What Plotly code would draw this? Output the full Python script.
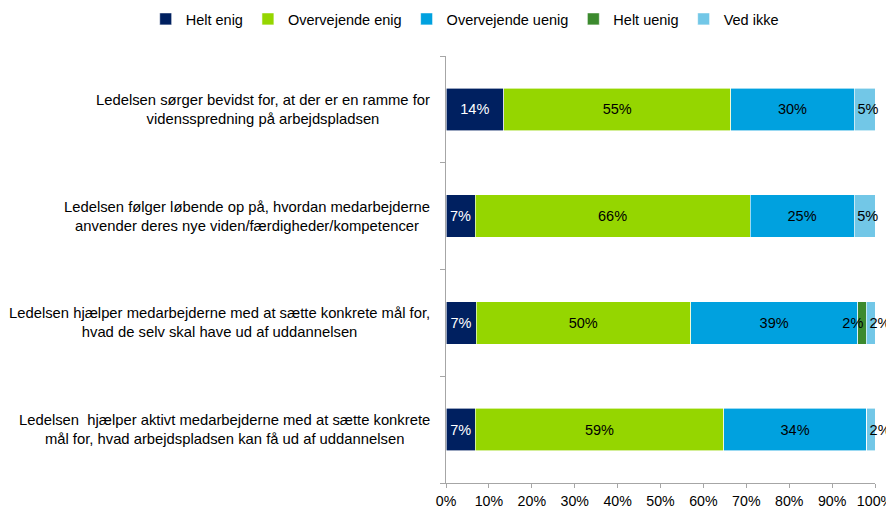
import plotly.graph_objects as go

categories = [
    "Ledelsen sørger bevidst for, at der er en ramme for<br>vidensspredning på arbejdspladsen",
    "Ledelsen følger løbende op på, hvordan medarbejderne<br>anvender deres nye viden/færdigheder/kompetencer",
    "Ledelsen hjælper medarbejderne med at sætte konkrete mål for,<br>hvad de selv skal have ud af uddannelsen",
    "Ledelsen  hjælper aktivt medarbejderne med at sætte konkrete<br>mål for, hvad arbejdspladsen kan få ud af uddannelsen",
]
series_names = ["Helt enig", "Overvejende enig", "Overvejende uenig", "Helt uenig", "Ved ikke"]
helt_enig = [14, 7, 7, 7]
overvejende_enig = [55, 66, 50, 59]
overvejende_uenig = [30, 25, 39, 34]
helt_uenig = [0, 0, 2, 0]
ved_ikke = [5, 5, 2, 2]
tick_vals = [0, 10, 20, 30, 40, 50, 60, 70, 80, 90, 100]
tick_labels = [f"{v}%" for v in tick_vals]

series_values = [helt_enig, overvejende_enig, overvejende_uenig, helt_uenig, ved_ikke]
colors = ["#002060", "#95D600", "#00A1DF", "#3C8A2E", "#72C7E7"]
text_colors = ["white", "black", "black", "black", "black"]
anchors = ["middle", "middle", "middle", "end", "start"]

FONT = "Liberation Sans, Arial, sans-serif"
FS = 14.5
ids = list(range(len(categories)))

fig = go.Figure()
for name, vals, col, tc, anc in zip(series_names, series_values, colors, text_colors, anchors):
    fig.add_trace(go.Bar(
        y=ids, x=vals, name=name, orientation="h",
        marker=dict(color=col, line=dict(color="white", width=0.6)),
        text=[f"{v}%" if v > 0 else "" for v in vals],
        textposition="inside", insidetextanchor=anc, textangle=0,
        textfont=dict(color=tc, size=FS, family=FONT),
        constraintext="none", cliponaxis=False,
    ))

for i, c in enumerate(categories):
    fig.add_annotation(x=0, xref="paper", y=i, yref="y", text=c, showarrow=False,
                       xanchor="right", align="center", xshift=-14,
                       font=dict(size=14.8, color="black", family=FONT))

# page has an 8px body margin, so the figure is 8px smaller than the window
fig.update_layout(
    width=886, height=498,
    margin=dict(l=438, r=19, t=48, b=23, autoexpand=False),
    barmode="stack", barnorm="percent", bargap=0.6,
    plot_bgcolor="white", paper_bgcolor="white",
    font=dict(family=FONT, size=FS, color="black"),
    uniformtext=dict(minsize=FS, mode="show"),
    legend=dict(orientation="h", x=-0.70, xanchor="left", y=1.0867, yanchor="middle",
                font=dict(size=FS, family=FONT), itemwidth=30, traceorder="normal",
                bgcolor="rgba(0,0,0,0)"),
    showlegend=True,
)
fig.update_xaxes(range=[0, 100], tickvals=tick_vals, ticktext=tick_labels,
                 showgrid=False, zeroline=False, showline=True, linecolor="#A6A6A6",
                 linewidth=1, ticks="outside", ticklen=4, tickcolor="#A6A6A6",
                 ticklabelstandoff=1,
                 tickfont=dict(size=14.2, color="black", family=FONT), fixedrange=True)
fig.update_yaxes(tickvals=[-0.5, 0.5, 1.5, 2.5, 3.5], ticktext=["", "", "", "", ""],
                 range=[3.5, -0.5], showgrid=False, zeroline=False, showline=True,
                 linecolor="#A6A6A6", linewidth=1, ticks="outside", ticklen=5,
                 tickcolor="#A6A6A6", fixedrange=True)

fig.write_html("out.html")
